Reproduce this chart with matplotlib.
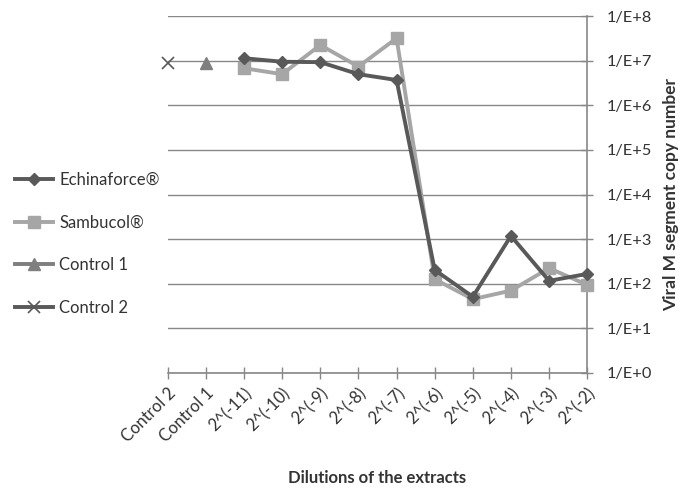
import matplotlib
matplotlib.use("Agg")
import matplotlib.pyplot as plt
import numpy as np

plt.rcParams['font.family'] = ['Lato', 'DejaVu Sans']

categories = ["Control 2", "Control 1", "2^(-11)", "2^(-10)", "2^(-9)", "2^(-8)",
              "2^(-7)", "2^(-6)", "2^(-5)", "2^(-4)", "2^(-3)", "2^(-2)"]
dilutions = categories[2:]
echinaforce = [1.14e7, 9.5e6, 9.3e6, 5.0e6, 3.7e6, 204, 51, 1180, 116, 166]
sambucol = [6.8e6, 5.0e6, 2.25e7, 7.4e6, 3.2e7, 126, 45, 70, 223, 94]
control1 = [8.8e6]
control2 = [8.8e6]
ytick_vals = [10.0 ** k for k in range(0, 9)]
ytick_labels = ["1/E+%d" % k for k in range(0, 9)]

fig = plt.figure(figsize=(6.82, 4.90), dpi=100)
ax = fig.add_axes([0.246, 0.239, 0.615, 0.728])

x = np.arange(len(categories))
xd = x[2:]

c_ech = '#595959'
c_sam = '#A6A6A6'
c_c1 = '#7F7F7F'
c_c2 = '#595959'

l1, = ax.plot(xd, echinaforce, color=c_ech, lw=2.8, marker='D', ms=6, label='Echinaforce®',
              clip_on=False, zorder=4)
l2, = ax.plot(xd, sambucol, color=c_sam, lw=2.8, marker='s', ms=8, label='Sambucol®',
              clip_on=False, zorder=3)
l3, = ax.plot([x[1]], control1, color=c_c1, lw=2.8, marker='^', ms=8, label='Control 1',
              linestyle='none', clip_on=False, zorder=3)
l4, = ax.plot([x[0]], control2, color=c_c2, lw=2.8, marker='x', ms=9, mew=1.2, label='Control 2',
              linestyle='none', clip_on=False, zorder=3)

ax.set_yscale('log')
ax.set_ylim(1, 1e8)
ax.set_xlim(0, len(categories) - 1)
ax.yaxis.tick_right()
ax.yaxis.set_label_position('right')
ax.set_yticks(ytick_vals)
ax.set_yticklabels(ytick_labels, fontsize=11.8, color='#333333')
ax.yaxis.set_minor_locator(matplotlib.ticker.NullLocator())
ax.set_xticks(x)
ax.set_xticklabels(categories, rotation=45, ha='right', rotation_mode='anchor',
                   fontsize=12, color='#333333')
ax.tick_params(axis='both', direction='inout', length=8, color='#888888', width=1)
ax.tick_params(axis='y', pad=10)
ax.tick_params(axis='x', pad=5)

ax.grid(axis='y', color='#888888', lw=1)
ax.set_axisbelow(True)
for s in ['left', 'top']:
    ax.spines[s].set_visible(False)
for s in ['right', 'bottom']:
    ax.spines[s].set_color('#888888')
    ax.spines[s].set_linewidth(1.2)

ax.set_ylabel('Viral M segment copy number', fontsize=12.5, fontweight='bold',
              color='#333333', labelpad=8)
ax.set_xlabel('Dilutions of the extracts', fontsize=12, fontweight='bold',
              color='#333333', labelpad=18)

h3 = matplotlib.lines.Line2D([], [], color=c_c1, lw=2.8, marker='^', ms=8)
h4 = matplotlib.lines.Line2D([], [], color=c_c2, lw=2.8, marker='x', ms=9, mew=1.2)
leg = fig.legend([l1, l2, h3, h4], ['Echinaforce®', 'Sambucol®', 'Control 1', 'Control 2'],
                 loc='upper left', bbox_to_anchor=(0.0, 0.68), frameon=False,
                 fontsize=12, handlelength=2.3, labelspacing=1.6, handletextpad=0.35)
for t in leg.get_texts():
    t.set_color('#333333')

fig.savefig('out.png', dpi=100)
